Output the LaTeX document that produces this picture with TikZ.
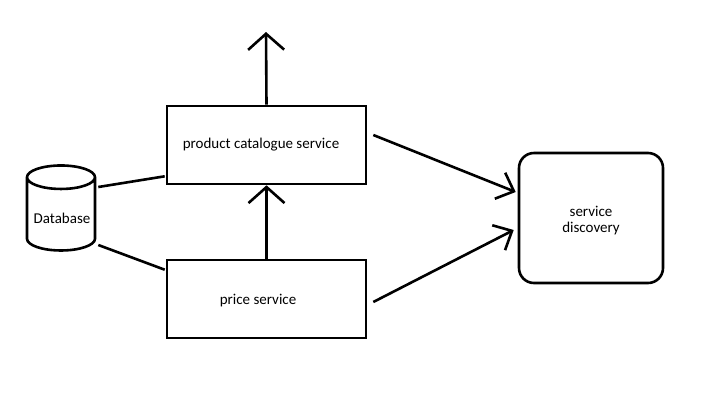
\documentclass[tikz,border=0pt]{standalone}
\usepackage{fontspec}
\setmainfont{Carlito}
\usetikzlibrary{shapes.geometric,arrows.meta,calc}
\begin{document}
\begin{tikzpicture}[x=1pt,y=-1pt,
  line width=2.6pt,
  box/.style={draw, rectangle, minimum width=199pt, minimum height=78pt, inner sep=0pt, font=\fontsize{15}{17}\selectfont},
  roundbox/.style={draw, rectangle, rounded corners=15pt, minimum width=144pt, minimum height=130pt, inner sep=0pt, font=\fontsize{15}{17}\selectfont},
  dbshape/.style={draw, cylinder, shape border rotate=90, aspect=0.4, minimum width=68pt, minimum height=85pt, inner sep=0pt, font=\fontsize{15}{17}\selectfont},
  link/.style={line width=2.6pt},
  vtip/.style={-{Straight Barb[length=16pt,width=36pt,line width=2.6pt]}},
  dtip/.style={-{Straight Barb[length=15pt,width=28pt,line width=2.6pt]}}
]
\fill[white] (0,0) rectangle (706,408);
\useasboundingbox (0,0) rectangle (706,408);

\node[box] (pc) at (266.5,145) {\hspace*{-11pt}\smash{\raisebox{-3pt}{product catalogue service}}};
\node[box] (ps) at (266.5,299) {\hspace*{-17pt}\smash{\raisebox{-5pt}{price service}}};
\node[roundbox] (sd) at (591,218) {\smash{\raisebox{1.5pt}{\begin{tabular}[t]{@{}c@{}}service\\[-1pt]discovery\end{tabular}}}};
\node[dbshape] (db) at (61,214.5) {\hspace*{2pt}\smash{\raisebox{-9pt}{Database}}};
\coordinate (up) at (266,32);

\draw[link] ($(db.east)+(2,-27.5)$) -- ($(pc.south west)+(-1,-9)$);
\draw[link] ($(db.east)+(2,30.5)$) -- ($(ps.north west)+(-1,11)$);
\draw[link,vtip] (ps.north) -- (pc.south);
\draw[link,vtip] (pc.north) -- (up);
\draw[link,dtip] ($(pc.east)+(6,-10)$) -- ($(sd.west)+(-2,-26)$);
\draw[link,dtip] ($(ps.east)+(6,3)$) -- ($(sd.west)+(-4,12)$);
\end{tikzpicture}
\end{document}
